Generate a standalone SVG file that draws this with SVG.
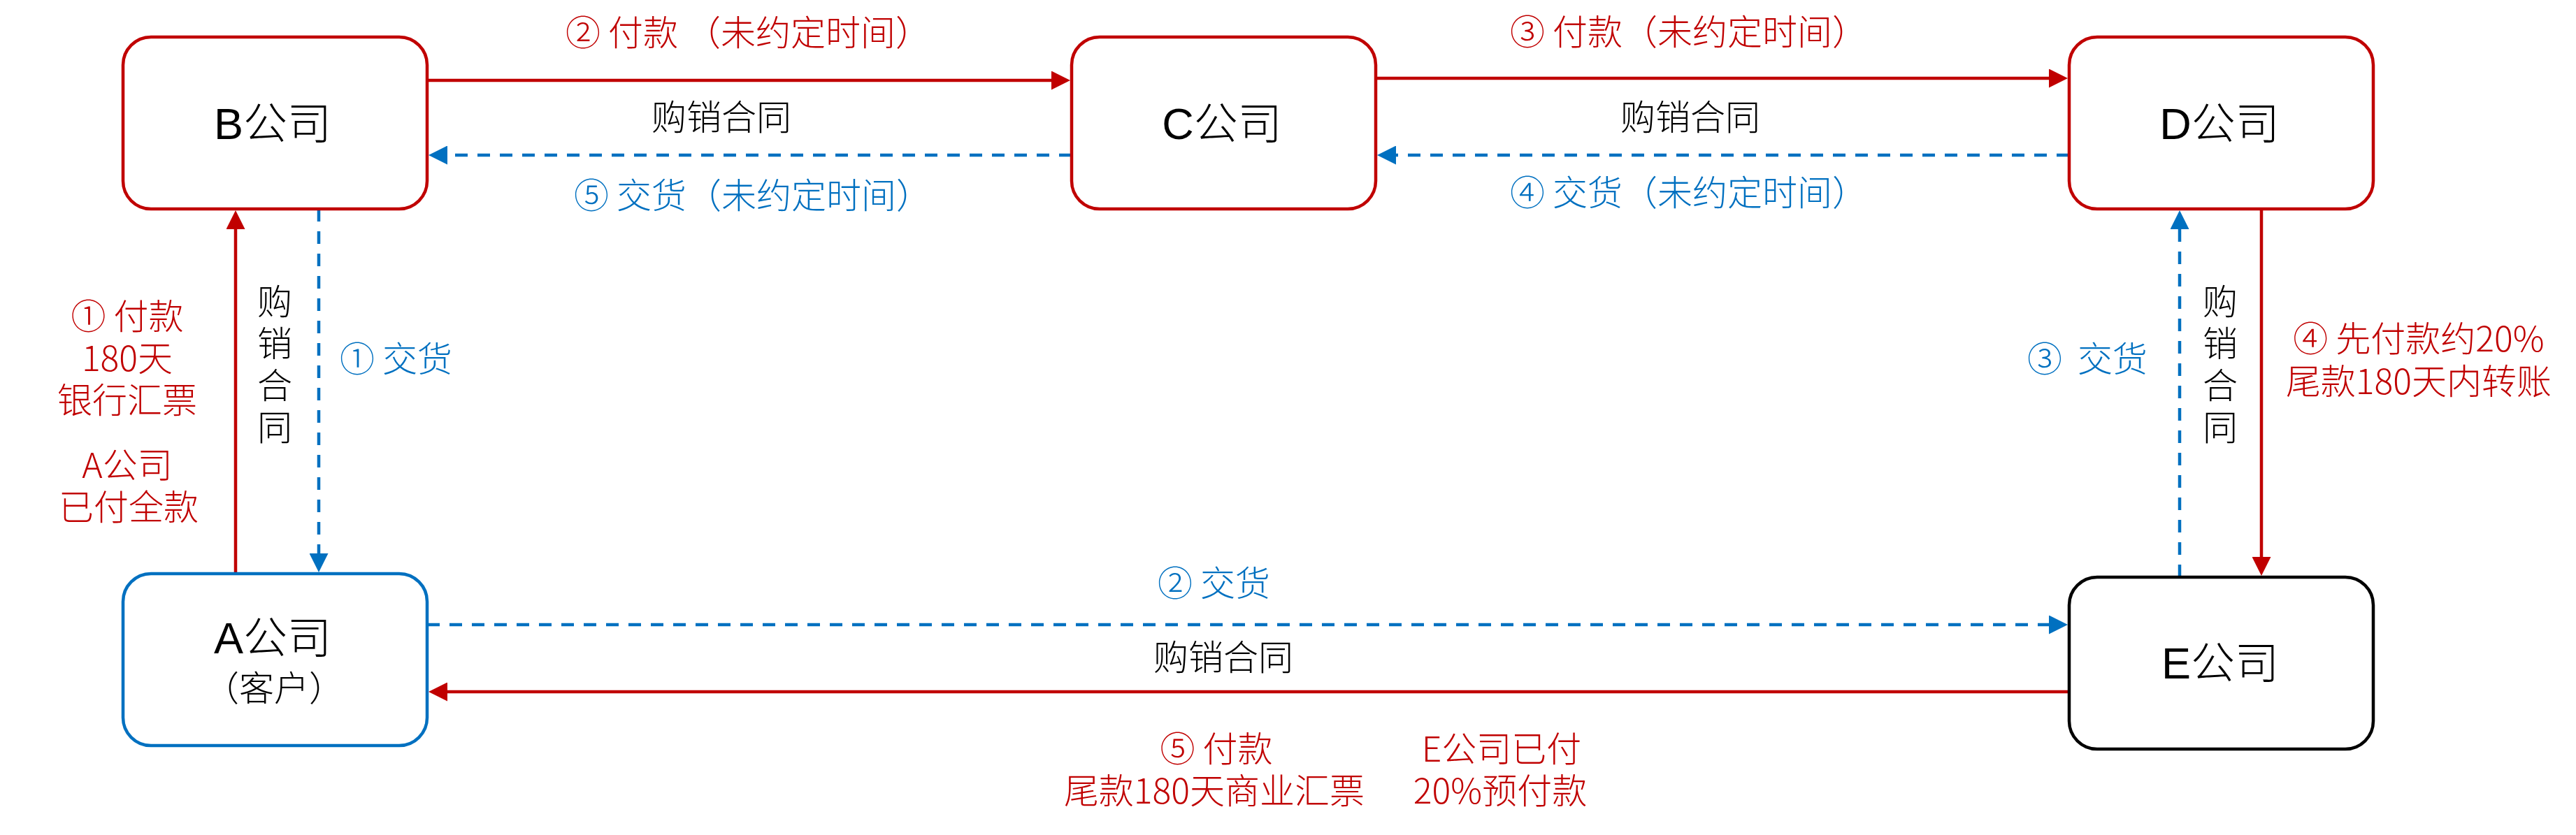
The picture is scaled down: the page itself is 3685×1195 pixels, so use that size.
<svg xmlns="http://www.w3.org/2000/svg" width="3685" height="1195" viewBox="0 0 3685 1195">
<style>
.box{fill:#fff;stroke-width:4.5}
.r{stroke:#C00000}
.b{stroke:#0070C0}
.k{stroke:#000}
.t{font-family:"Noto Sans CJK SC",sans-serif;font-weight:300;font-size:50px}
.title{font-family:"Liberation Sans","Noto Sans CJK SC",sans-serif;font-size:63px;fill:#000;text-anchor:middle}
.cj{font-family:"Noto Sans CJK SC",sans-serif;font-weight:300}
.lr{fill:#C00000}
.lb{fill:#0070C0}
.lk{fill:#000}
.m{text-anchor:middle}
.solid{fill:none;stroke-width:4.5}
.dash{fill:none;stroke-width:4.5;stroke-dasharray:18 14}
</style>
<defs>
<marker id="ar" markerUnits="userSpaceOnUse" markerWidth="27" markerHeight="27" refX="7" refY="13.5" orient="auto"><path d="M0,0L27,13.5L0,27z" fill="#C00000"/></marker>
<marker id="ab" markerUnits="userSpaceOnUse" markerWidth="27" markerHeight="27" refX="7" refY="13.5" orient="auto"><path d="M0,0L27,13.5L0,27z" fill="#0070C0"/></marker>
</defs>
<rect width="3685" height="1195" fill="#fff"/>

<g id="connectors">
<path class="solid r" d="M611,115H1511" marker-end="url(#ar)"/>
<path class="solid r" d="M1968,112H2938" marker-end="url(#ar)"/>
<path class="dash b" d="M2960,222H1990" marker-end="url(#ab)"/>
<path class="dash b" d="M1533,222H633" marker-end="url(#ab)"/>
<path class="solid r" d="M337,821V321" marker-end="url(#ar)"/>
<path class="dash b" d="M456,299V799" marker-end="url(#ab)"/>
<path class="dash b" d="M611,894H2938" marker-end="url(#ab)"/>
<path class="solid r" d="M2960,990H633" marker-end="url(#ar)"/>
<path class="dash b" d="M3118,826V321" marker-end="url(#ab)"/>
<path class="solid r" d="M3235,299V804" marker-end="url(#ar)"/>
</g>

<g id="nodeB">
<rect class="box r" x="176" y="53" width="435" height="246" rx="40"/>
<text class="title" x="390" y="199">B<tspan class="cj">公司</tspan></text>
</g>
<g id="nodeC">
<rect class="box r" x="1533" y="53" width="435" height="246" rx="40"/>
<text class="title" x="1748" y="199">C<tspan class="cj">公司</tspan></text>
</g>
<g id="nodeD">
<rect class="box r" x="2960" y="53" width="435" height="246" rx="40"/>
<text class="title" x="3175" y="199">D<tspan class="cj">公司</tspan></text>
</g>
<g id="nodeA">
<rect class="box b" x="176" y="821" width="435" height="246" rx="40"/>
<text class="title" x="390" y="935">A<tspan class="cj">公司</tspan></text>
<text class="t lk m" x="392" y="1003">（客户）</text>
</g>
<g id="nodeE">
<rect class="box k" x="2960" y="826" width="435" height="246" rx="40"/>
<text class="title" x="3176" y="971">E<tspan class="cj">公司</tspan></text>
</g>

<g id="labels">
<text class="t lr" x="809" y="65" xml:space="preserve">② 付款 （未约定时间）</text>
<text class="t lk m" x="1032" y="186">购销合同</text>
<text class="t lb" x="821" y="298">⑤ 交货（未约定时间）</text>
<text class="t lr" x="2160" y="64">③ 付款（未约定时间）</text>
<text class="t lk m" x="2418" y="186">购销合同</text>
<text class="t lb" x="2160" y="294">④ 交货（未约定时间）</text>

<text class="t lr m" x="182"><tspan x="182" y="471">① 付款</tspan><tspan x="182" y="531">180天</tspan><tspan x="182" y="591">银行汇票</tspan><tspan x="182" y="684">A公司</tspan><tspan x="184" y="744">已付全款</tspan></text>

<text class="t lk m"><tspan x="393" y="450">购</tspan><tspan x="393" y="510">销</tspan><tspan x="393" y="570">合</tspan><tspan x="393" y="630">同</tspan></text>
<text class="t lb" x="486" y="532">① 交货</text>

<text class="t lb" x="2900" y="532" xml:space="preserve">③  交货</text>
<text class="t lk m"><tspan x="3176" y="450">购</tspan><tspan x="3176" y="510">销</tspan><tspan x="3176" y="570">合</tspan><tspan x="3176" y="630">同</tspan></text>
<text class="t lr m"><tspan x="3460" y="503">④ 先付款约20%</tspan><tspan x="3460" y="564">尾款180天内转账</tspan></text>

<text class="t lb" x="1656" y="853">② 交货</text>
<text class="t lk m" x="1750" y="959">购销合同</text>
<text class="t lr m"><tspan x="1740" y="1090">⑤ 付款</tspan><tspan x="1737" y="1150">尾款180天商业汇票</tspan></text>
<text class="t lr m"><tspan x="2148" y="1090">E公司已付</tspan><tspan x="2146" y="1150">20%预付款</tspan></text>
</g>
</svg>
